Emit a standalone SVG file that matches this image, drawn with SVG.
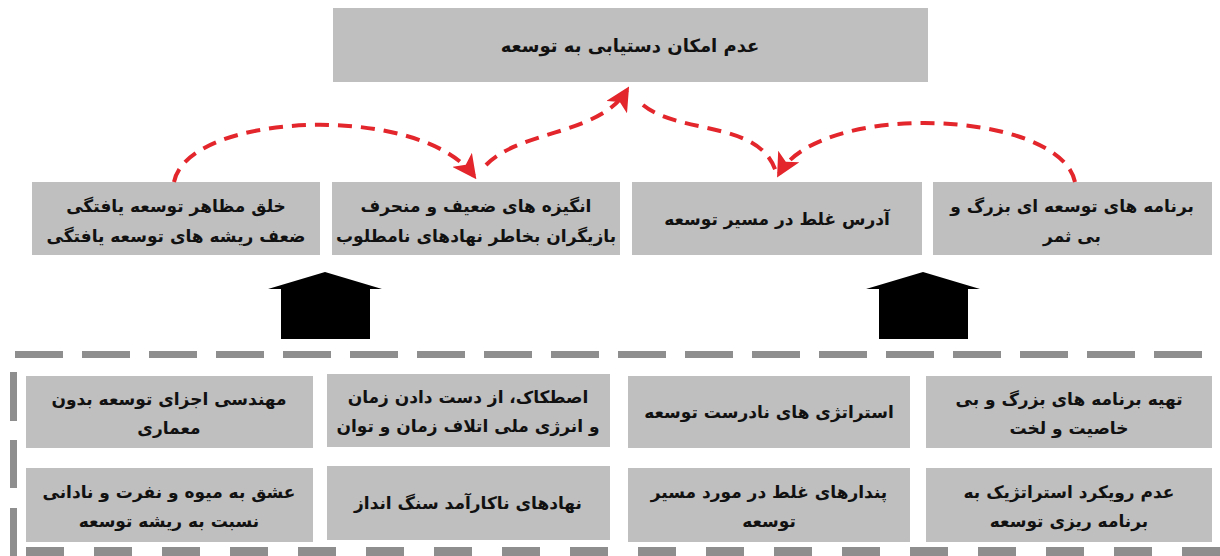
<svg xmlns="http://www.w3.org/2000/svg" width="1220" height="556" viewBox="0 0 1220 556">
<defs>
<style>
.box{fill:#bfbfbf;}
.t{font-family:"DejaVu Sans","Noto Sans",sans-serif;font-weight:bold;font-size:17px;fill:#111;text-anchor:middle;direction:rtl;}
.tt{font-size:18px;}
.red{fill:none;stroke:#e3262b;stroke-width:4;stroke-dasharray:14 9;}
.sep{fill:#8e8e8e;}
.house{fill:#000;}
</style>
<marker id="ah" viewBox="0 0 12 12" refX="10" refY="6" markerWidth="6" markerHeight="6" orient="auto" markerUnits="strokeWidth">
<path d="M0,0 L12,6 L0,12 L3,6 z" fill="#e3262b"/>
</marker>
</defs>
<rect width="1220" height="556" fill="#fff"/>

<g id="separators">
<g id="dash-top" class="sep">
<rect x="15" y="351" width="48" height="7"/><rect x="82" y="351" width="48" height="7"/><rect x="149" y="351" width="48" height="7"/><rect x="216" y="351" width="48" height="7"/><rect x="283" y="351" width="48" height="7"/><rect x="350" y="351" width="48" height="7"/><rect x="417" y="351" width="48" height="7"/><rect x="484" y="351" width="48" height="7"/><rect x="551" y="351" width="48" height="7"/><rect x="618" y="351" width="48" height="7"/><rect x="685" y="351" width="48" height="7"/><rect x="752" y="351" width="48" height="7"/><rect x="819" y="351" width="48" height="7"/><rect x="886" y="351" width="48" height="7"/><rect x="953" y="351" width="48" height="7"/><rect x="1020" y="351" width="48" height="7"/><rect x="1087" y="351" width="48" height="7"/><rect x="1154" y="351" width="48" height="7"/>
</g>
<g id="dash-bottom" class="sep">
<rect x="26" y="547" width="38" height="9"/><rect x="94" y="547" width="38" height="9"/><rect x="162" y="547" width="38" height="9"/><rect x="230" y="547" width="38" height="9"/><rect x="298" y="547" width="38" height="9"/><rect x="366" y="547" width="38" height="9"/><rect x="434" y="547" width="38" height="9"/><rect x="502" y="547" width="38" height="9"/><rect x="570" y="547" width="38" height="9"/><rect x="638" y="547" width="38" height="9"/><rect x="706" y="547" width="38" height="9"/><rect x="774" y="547" width="38" height="9"/><rect x="842" y="547" width="38" height="9"/><rect x="910" y="547" width="38" height="9"/><rect x="978" y="547" width="38" height="9"/><rect x="1046" y="547" width="38" height="9"/><rect x="1114" y="547" width="38" height="9"/><rect x="1182" y="547" width="38" height="9"/>
</g>
<g id="dash-left" class="sep">
<rect x="10" y="372" width="7" height="49"/><rect x="10" y="440" width="7" height="48"/><rect x="10" y="508" width="7" height="48"/>
</g>
</g>

<g id="houses">
<path id="house-left" class="house" d="M325,272 L382,289 L370,289 L370,339 L281,339 L281,289 L268,289 Z"/>
<path id="house-right" class="house" d="M923,272 L980,289 L968,289 L968,339 L879,339 L879,289 L866,289 Z"/>
</g>

<g id="top">
<rect class="box" x="333" y="8" width="595" height="74"/>
<text class="t tt" x="630" y="52">عدم امکان دستیابی به توسعه</text>
</g>

<g id="r1a"><rect class="box" x="32" y="182" width="288" height="73"/>
<text class="t" x="176" y="212">خلق مظاهر توسعه یافتگی</text>
<text class="t" x="176" y="242">ضعف ریشه های توسعه یافتگی</text></g>
<g id="r1b"><rect class="box" x="332" y="182" width="288" height="73"/>
<text class="t" x="476" y="212">انگیزه های ضعیف و منحرف</text>
<text class="t" x="476" y="242">بازیگران بخاطر نهادهای نامطلوب</text></g>
<g id="r1c"><rect class="box" x="632" y="182" width="290" height="73"/>
<text class="t" x="777" y="225">آدرس غلط در مسیر توسعه</text></g>
<g id="r1d"><rect class="box" x="933" y="182" width="279" height="73"/>
<text class="t" x="1072" y="212">برنامه های توسعه ای بزرگ و</text>
<text class="t" x="1072" y="242">بی ثمر</text></g>

<g id="r2a"><rect class="box" x="26" y="376" width="287" height="72"/>
<text class="t" x="169" y="405">مهندسی اجزای توسعه بدون</text>
<text class="t" x="169" y="434">معماری</text></g>
<g id="r2b"><rect class="box" x="327" y="374" width="283" height="73"/>
<text class="t" x="468" y="403">اصطکاک، از دست دادن زمان</text>
<text class="t" x="468" y="432">و انرژی ملی اتلاف زمان و توان</text></g>
<g id="r2c"><rect class="box" x="628" y="376" width="282" height="72"/>
<text class="t" x="769" y="418">استراتژی های نادرست توسعه</text></g>
<g id="r2d"><rect class="box" x="926" y="376" width="286" height="72"/>
<text class="t" x="1069" y="405">تهیه برنامه های بزرگ و بی</text>
<text class="t" x="1069" y="434">خاصیت و لخت</text></g>

<g id="r3a"><rect class="box" x="26" y="468" width="287" height="74"/>
<text class="t" x="169" y="498">عشق به میوه و نفرت و نادانی</text>
<text class="t" x="169" y="527">نسبت به ریشه توسعه</text></g>
<g id="r3b"><rect class="box" x="327" y="466" width="283" height="74"/>
<text class="t" x="468" y="509">نهادهای ناکارآمد سنگ انداز</text></g>
<g id="r3c"><rect class="box" x="628" y="468" width="282" height="74"/>
<text class="t" x="769" y="498">پندارهای غلط در مورد مسیر</text>
<text class="t" x="769" y="527">توسعه</text></g>
<g id="r3d"><rect class="box" x="926" y="468" width="286" height="74"/>
<text class="t" x="1069" y="498">عدم رویکرد استراتژیک به</text>
<text class="t" x="1069" y="527">برنامه ریزی توسعه</text></g>

<g id="connectors">
<path class="red" d="M174,182 C188,112 420,102 474,176" marker-end="url(#ah)"/>
<path class="red" d="M486,165 C520,130 600,135 627,90" marker-end="url(#ah)"/>
<path class="red" d="M643,105 C680,135 760,120 776,172"/>
<path class="red" d="M1075,182 C1060,110 820,100 779,174" marker-end="url(#ah)"/>
</g>
</svg>
